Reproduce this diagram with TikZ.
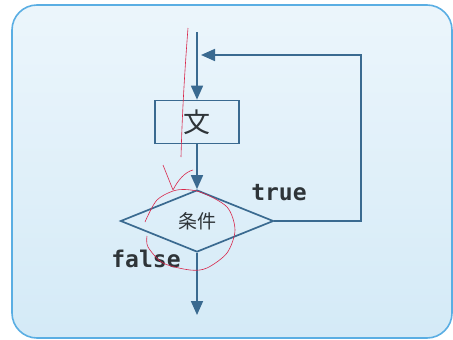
\documentclass[tikz,border=0pt]{standalone}
\usepackage{fontspec}
\setmonofont{DejaVu Sans Mono}
\newfontfamily\cjk{Noto Sans CJK JP}
\usetikzlibrary{arrows.meta,shapes.geometric,positioning}
\definecolor{fondo}{HTML}{D4EAF7}
\definecolor{borde}{HTML}{5AAEE3}
\definecolor{linea}{HTML}{3A6A90}
\definecolor{texto}{HTML}{2E3438}
\definecolor{pluma}{HTML}{D8264A}

\begin{document}
\begin{tikzpicture}[x=1pt, y=-1pt,
    flujo/.style={draw=linea, line width=1.7pt, -{Triangle[width=12pt,length=14pt]}},
    bloque/.style={draw=linea, line width=1.7pt, minimum width=84pt, minimum height=43pt,
        inner sep=0pt, font=\cjk\fontsize{27}{27}\selectfont, text=texto},
    condicion/.style={diamond, draw=linea, line width=1.7pt, minimum width=153pt,
        minimum height=62pt, inner sep=0pt, font=\cjk\fontsize{19}{19}\selectfont, text=texto},
    etiqueta/.style={font=\ttfamily\bfseries\fontsize{23}{23}\selectfont, text=texto, inner sep=0pt}]
    \useasboundingbox (0,0) rectangle (453,340);

    % Fondo.
    \shade[top color=fondo!45, bottom color=fondo, rounded corners=25pt]
        (12,5) rectangle (452,338);
    \draw[borde, line width=1.6pt, rounded corners=25pt] (12,5) rectangle (452,338);

    % Diagrama de flujo.
    \coordinate (inicio) at (197,32);
    \node[bloque] (sentencia) at (197,122) {文};
    \node[condicion] (cond) at (197,221) {条件};
    \coordinate (fin) at (197,315);
    \coordinate (codo) at (361,55);
    \coordinate (retorno) at (197,55);

    \draw[flujo] (inicio) -- (sentencia.north);
    \draw[flujo] (sentencia.south) -- (cond.north);
    \draw[flujo] (cond.south) -- (fin);
    \draw[flujo, shorten >=4pt] (cond.east) -| (codo) -- (retorno);

    % Etiquetas.
    \node[etiqueta] (verdadero) at (279,193) {true};
    \node[etiqueta] (falso) at (146,259) {false};

    % Marcas de bolígrafo rojo.
    \draw[pluma, line width=.6pt] (188,28) .. controls (184,80) and (182,120) .. (181,157);
    \draw[pluma, line width=.6pt] (163,165) -- (173,190)
        .. controls (178,180) and (185,172) .. (193,170);
    \draw[pluma, line width=.6pt] plot[smooth] coordinates {(145,222) (157,200) (177,190)
        (200,192) (227,207) (235,230) (227,253) (207,268) (190,270) (163,263) (148,247) (147,236)};
\end{tikzpicture}
\end{document}
